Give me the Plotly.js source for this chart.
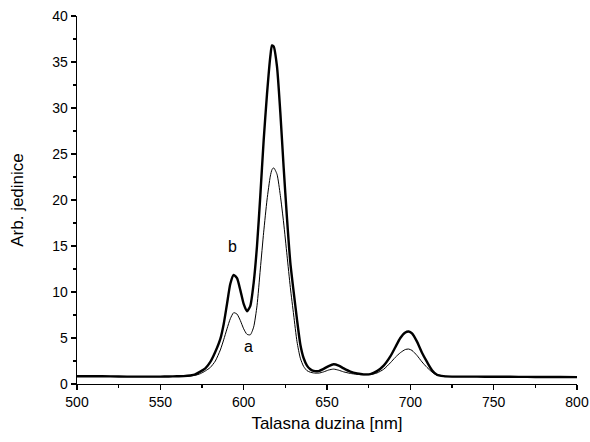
<!DOCTYPE html>
<html>
<head>
<meta charset="utf-8">
<script src="https://cdn.plot.ly/plotly-3.0.1.min.js"></script>
<style>html,body{margin:0;padding:0;background:#fff;}#chart{width:590px;height:442px;}</style>
</head>
<body>
<div id="chart"></div>
<script>
const wavelength = [500,510,520,530,540,550,555,560,564,568,571,574,577,580,583,586,588,590,592,594,596,598,600,602,604,606,608,610,612,614,616,617,618,620,622,624,626,628,630,632,634,636,638,640,642,645,648,651,654,657,660,664,668,672,676,680,684,688,691,694,697,699,701,704,707,710,713,716,720,725,730,740,750,760,770,780,790,800];

const seriesB = [0.85,0.85,0.83,0.8,0.8,0.8,0.82,0.84,0.86,0.93,1.05,1.35,1.7,2.4,3.5,4.9,6.5,8.7,10.9,11.85,11.5,10.2,8.7,7.9,8.5,11.0,15.0,20.5,26.5,31.5,35.6,36.8,36.7,34.5,29.5,23.5,18.0,13.2,10.0,7.0,4.3,2.8,2.0,1.6,1.42,1.4,1.65,1.95,2.15,2.0,1.7,1.35,1.15,1.05,1.08,1.4,2.0,3.0,4.0,5.0,5.6,5.7,5.5,4.6,3.4,2.4,1.5,1.0,0.85,0.8,0.8,0.8,0.78,0.78,0.77,0.76,0.76,0.75];

const seriesA = [0.85,0.85,0.83,0.8,0.8,0.8,0.81,0.82,0.83,0.88,0.95,1.12,1.42,1.8,2.5,3.7,4.8,6.0,7.1,7.75,7.6,6.9,6.0,5.4,5.35,6.2,8.5,12.5,16.5,20.0,22.6,23.3,23.5,22.8,20.5,17.5,14.0,10.5,7.5,4.6,2.8,1.9,1.45,1.28,1.2,1.18,1.32,1.52,1.62,1.5,1.32,1.15,1.05,1.0,1.03,1.2,1.6,2.3,2.9,3.4,3.75,3.8,3.65,3.1,2.4,1.8,1.3,0.95,0.85,0.8,0.8,0.8,0.78,0.78,0.77,0.76,0.76,0.75];

const xTicks = [500,550,600,650,700,750,800];
const yTicks = [0,5,10,15,20,25,30,35,40];

const traces = [
  {x: wavelength, y: seriesB, type: 'scatter', mode: 'lines', name: 'b',
   line: {color: '#000', width: 2.4, shape: 'spline', smoothing: 0.6}},
  {x: wavelength, y: seriesA, type: 'scatter', mode: 'lines', name: 'a',
   line: {color: '#000', width: 1, shape: 'spline', smoothing: 0.6}}
];

const font = {family: 'Liberation Sans, Arial, sans-serif', color: '#000'};

const layout = {
  width: 590, height: 442,
  margin: {l: 77, r: 13, t: 16, b: 58},
  paper_bgcolor: '#fff', plot_bgcolor: '#fff',
  showlegend: false,
  font: Object.assign({}, font, {size: 14}),
  xaxis: {
    range: [500, 800], tickvals: xTicks, ticktext: xTicks.map(String),
    showgrid: false, zeroline: false, showline: true, linecolor: '#000', linewidth: 1.3,
    ticks: 'outside', ticklen: 5, tickwidth: 1.3, tickcolor: '#000',
    minor: {dtick: 25, tick0: 500, ticks: 'outside', ticklen: 3, tickwidth: 1.2, tickcolor: '#000', showgrid: false},
    tickfont: Object.assign({}, font, {size: 14}),
    title: {text: 'Talasna duzina [nm]', font: Object.assign({}, font, {size: 17}), standoff: 8}
  },
  yaxis: {
    range: [0, 40], tickvals: yTicks, ticktext: yTicks.map(String),
    showgrid: false, zeroline: false, showline: true, linecolor: '#000', linewidth: 1.3,
    ticks: 'outside', ticklen: 5, tickwidth: 1.3, tickcolor: '#000',
    minor: {dtick: 2.5, tick0: 0, ticks: 'outside', ticklen: 3, tickwidth: 1.2, tickcolor: '#000', showgrid: false},
    tickfont: Object.assign({}, font, {size: 14}),
    title: {text: 'Arb. jedinice', font: Object.assign({}, font, {size: 17}), standoff: 24}
  },
  annotations: [
    {x: 593, y: 14.9, xref: 'x', yref: 'y', text: 'b', showarrow: false, font: Object.assign({}, font, {size: 16})},
    {x: 603, y: 4.1, xref: 'x', yref: 'y', text: 'a', showarrow: false, font: Object.assign({}, font, {size: 16})}
  ]
};

Plotly.newPlot('chart', traces, layout, {displayModeBar: false, staticPlot: true});
</script>
</body>
</html>
